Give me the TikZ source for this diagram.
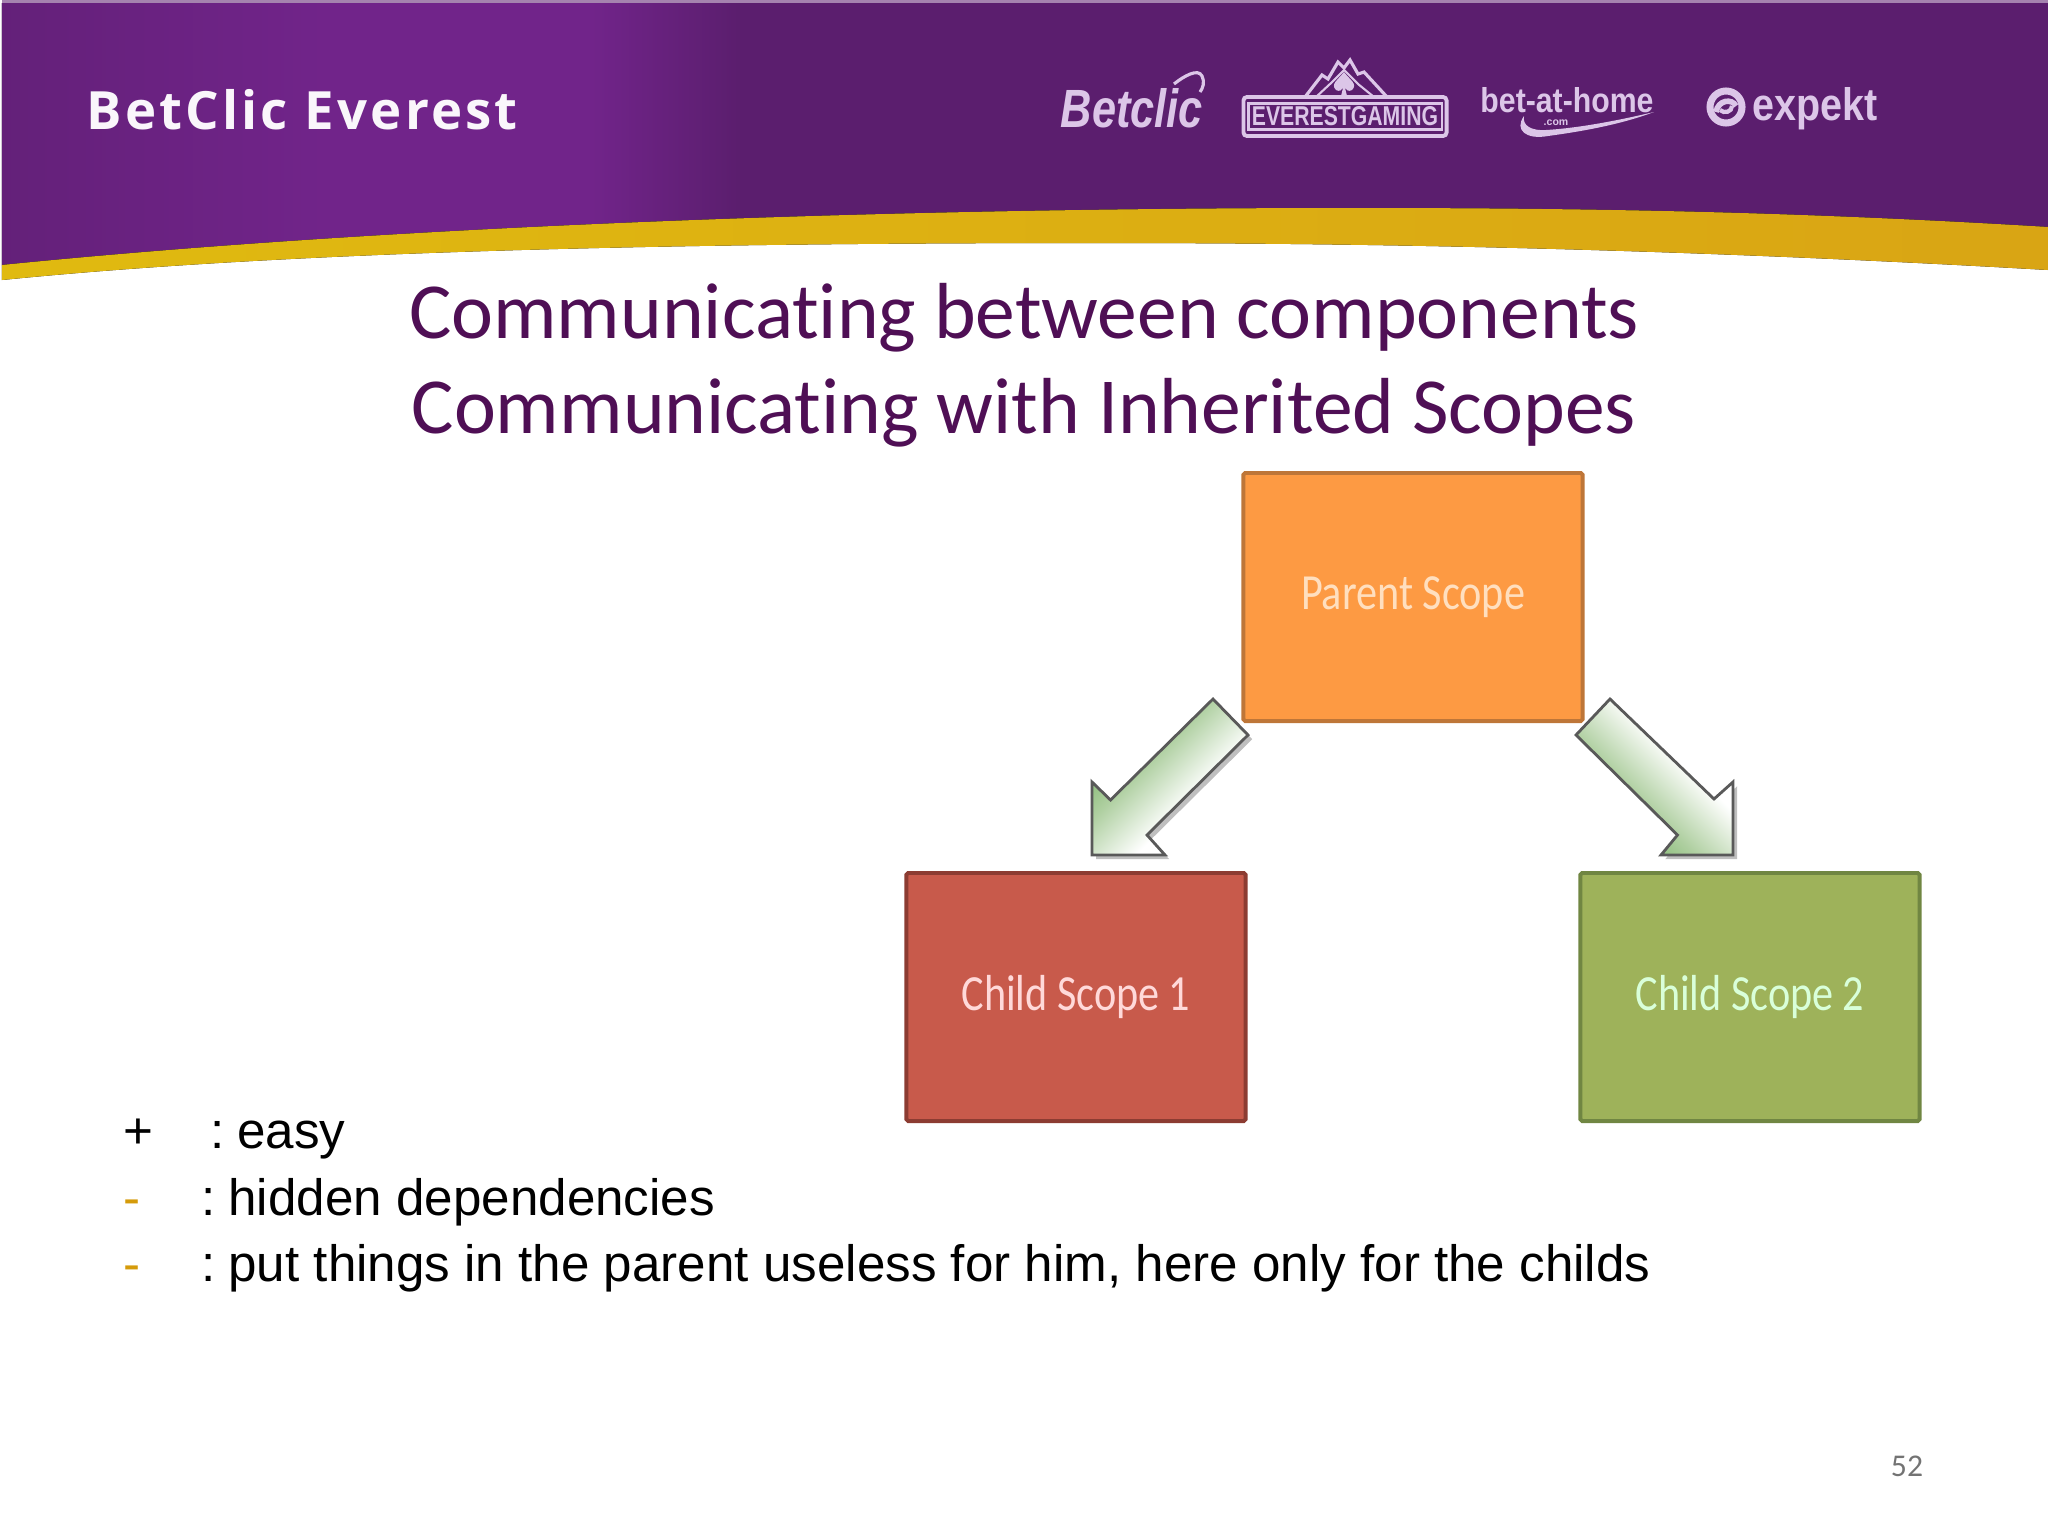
\documentclass[tikz,border=0pt]{standalone}
\usepackage{fontspec}
\usetikzlibrary{shadows}
\setmainfont{Liberation Sans}
\newfontfamily\titlefont[Ligatures=NoCommon]{Carlito}
\newfontfamily\brandfont{Open Sans}

\definecolor{bannerdark}{HTML}{5B1E6E}
\definecolor{bannerlight}{HTML}{71248A}
\definecolor{bandleft}{HTML}{E0BA10}
\definecolor{bandright}{HTML}{D9A514}
\definecolor{titlecol}{HTML}{4F0F55}
\definecolor{logocol}{HTML}{DCC6E8}
\definecolor{dashcol}{HTML}{D59B0A}
\definecolor{arrowstrong}{HTML}{8FBE7E}
\definecolor{arrowmid}{HTML}{B0D0A2}

\pgfdeclarehorizontalshading{bannershade}{100bp}{color(0bp)=(bannerdark!60!bannerlight); color(25bp)=(bannerdark!60!bannerlight); color(33bp)=(bannerlight); color(39.4bp)=(bannerlight); color(43bp)=(bannerdark); color(100bp)=(bannerdark)}
\pgfdeclarehorizontalshading{arrowshade}{100bp}{color(0bp)=(arrowstrong); color(33bp)=(arrowstrong); color(42bp)=(arrowmid); color(60bp)=(white); color(100bp)=(white)}

\tikzset{
  scopebox/.style={shape=rectangle, minimum width=3.39cm, minimum height=2.48cm, draw, line width=1.1pt, rounded corners=0.5pt,
    text=#1, font=\titlefont\fontsize{12}{14}\selectfont, inner sep=0pt},
  blockarrow/.style={shading=arrowshade, draw=black!65, line width=0.8pt, line join=miter,
    drop shadow={shadow xshift=1.2pt, shadow yshift=-1.2pt, opacity=0.25, fill=black}},
  listline/.style={anchor=base west, inner sep=0pt, font=\fontsize{14.55}{17}\selectfont},
  titleline/.style={inner sep=0pt, text=titlecol, font=\titlefont\fontsize{22.6}{27}\selectfont},
  logotext/.style={text=logocol, inner sep=0pt, font=\bfseries},
  logoline/.style={draw=logocol, line width=0.9pt},
}

\begin{document}
\begin{tikzpicture}[x=0.01cm,y=-0.01cm]
\useasboundingbox (0,0) rectangle (2048,1536);

% banner
\fill[bannerdark!55!white] (2,0) rectangle (2048,3);
\fill[shading=bannershade] (2,3) -- (2048,3) -- (2048,227) .. controls (1800,212) and (1600,208) .. (1350,208)
  .. controls (900,208) and (400,225) .. (2,265) -- cycle;
\fill[left color=bandleft, right color=bandright] (2,265) .. controls (400,225) and (900,208) .. (1350,208)
  .. controls (1600,208) and (1800,212) .. (2048,227) -- (2048,270) .. controls (1700,250) and (1400,243) .. (1100,243)
  .. controls (700,243) and (300,250) .. (2,280) -- cycle;

\path (86,110) node (brand) [anchor=west, inner sep=0pt, text=white!85!logocol, font=\brandfont\bfseries\fontsize{15}{17}\selectfont] {\addfontfeature{LetterSpace=6}BetClic Everest};

% logos
\path (1132,108) node (betclic) [logotext] {\resizebox{1.42cm}{0.39cm}{\itshape Betclic}};
\draw[logoline] (1174,84) .. controls (1184,76) and (1198,68) .. (1202,76) .. controls (1205,82) and (1203,88) .. (1200,92);
\path (1345,116.5) node (gamingbox) [draw=logocol, line width=1.1pt, rounded corners=1pt, minimum width=2.03cm, minimum height=0.39cm, inner sep=0pt] {};
\path (gamingbox.center) node (gamingpanel) [draw=logocol, line width=0.6pt, minimum width=1.93cm, minimum height=0.26cm, inner sep=0pt] {};
\path (gamingbox.center) node (gaming) [logotext] {\resizebox{1.86cm}{0.19cm}{EVERESTGAMING}};
\draw[logoline] (1305,97) -- (1322,75) -- (1328,79) -- (1338,62) -- (1344,68) -- (1350,60) -- (1358,74) -- (1364,72) -- (1387,97);
\draw[logoline, line width=0.6pt] (1316,97) -- (1330,84) -- (1344,70) -- (1358,84) -- (1374,97);
\fill[logocol] (1344,72) .. controls (1350,80) and (1358,84) .. (1352,90) .. controls (1349,92) and (1346,90) .. (1345,88) -- (1347,96) -- (1341,96) -- (1343,88)
  .. controls (1342,90) and (1339,92) .. (1336,90) .. controls (1330,84) and (1338,80) .. (1344,72) -- cycle;
\path (1567,100) node (bethome) [logotext] {\resizebox{1.73cm}{0.25cm}{bet-at-home}};
\path (1556,123) node (betcom) [logotext, font=\bfseries\fontsize{3}{4}\selectfont] {.com};
\fill[logocol] (1524,116) .. controls (1514,130) and (1526,140) .. (1548,136) .. controls (1585,131) and (1622,124) .. (1654,112)
  .. controls (1620,120) and (1580,128) .. (1546,130) .. controls (1532,131) and (1522,126) .. (1524,116) -- cycle;
\draw[logoline, line width=2pt] (1726,107) circle (16);
\draw[logoline, line width=1.6pt] (1716,112) .. controls (1718,100) and (1732,98) .. (1736,106);
\draw[logoline, line width=1.2pt] (1732,106) .. controls (1732,112) and (1724,114) .. (1720,110);
\path (1815,108.5) node (expekt) [logotext] {\resizebox{1.25cm}{0.33cm}{expekt}};

% title
\path (1024,318) node (title1) [titleline] {Communicating between components};
\path (1024,413) node (title2) [titleline] {Communicating with Inherited Scopes};

% scopes
\path (1413,597) node (parent) [scopebox={white!75!orange}, fill={rgb,255:red,253;green,154;blue,67}, draw={rgb,255:red,190;green,118;blue,56}] {\raisebox{-2pt}{\scalebox{1}[1.2]{Parent Scope}}};
\path (1076,997) node (child1) [scopebox={white!85!red}, fill={rgb,255:red,200;green,90;blue,75}, draw={rgb,255:red,140;green,60;blue,50}] {\raisebox{-1pt}{\scalebox{1}[1.2]{Child Scope 1}}};
\path (1750,997) node (child2) [scopebox={white!85!green}, fill={rgb,255:red,158;green,178;blue,90}, draw={rgb,255:red,112;green,134;blue,66}] {\raisebox{-1pt}{\scalebox{1}[1.2]{Child Scope 2}}};

% arrows
\draw[blockarrow, shading angle=-45] (1213,699) -- (1248,735) -- (1147,835) -- (1165,855) -- (1092,855) -- (1092,782) -- (1110.5,800) -- cycle;
\draw[blockarrow, shading angle=45] (1610,699) -- (1576,735) -- (1677.5,835) -- (1661,855) -- (1733,855) -- (1733,782) -- (1714,799) -- cycle;

% list
\path (123,1148) node (plus) [listline] {+};
\path (210,1148) node (easy) [listline] {:\kern-1.8pt{} easy};
\path (123,1215) node (dash1) [listline, text=dashcol] {-};
\path (201,1215) node (hidden) [listline] {:\kern-1.8pt{} hidden dependencies};
\path (123,1281) node (dash2) [listline, text=dashcol] {-};
\path (201,1281) node (useless) [listline] {:\kern-1.8pt{} put things in the parent useless for him, here only for the childs};

\path (1907,1466) node (page) [inner sep=0pt, text=black!55, font=\titlefont\fontsize{9}{11}\selectfont] {52};
\end{tikzpicture}
\end{document}
